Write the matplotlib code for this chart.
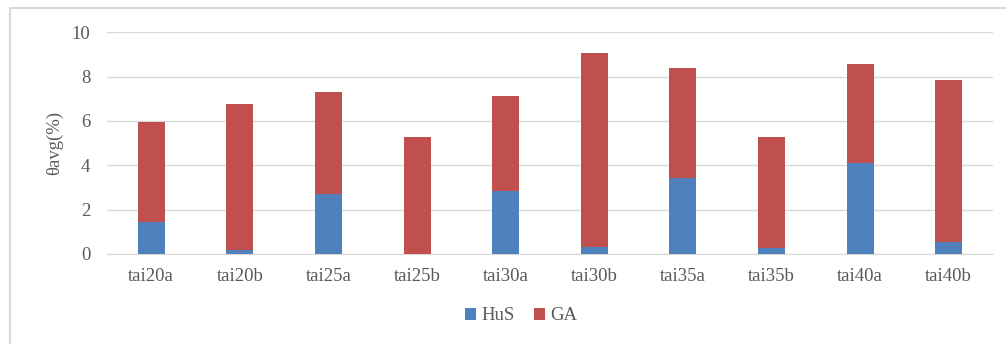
import matplotlib
matplotlib.use("Agg")
import matplotlib.pyplot as plt
from matplotlib.patches import Rectangle

categories = ["tai20a", "tai20b", "tai25a", "tai25b", "tai30a", "tai30b", "tai35a", "tai35b", "tai40a", "tai40b"]
hus = [1.46, 0.18, 2.69, 0.0, 2.84, 0.32, 3.44, 0.29, 4.09, 0.53]
totals = [5.97, 6.75, 7.29, 5.28, 7.14, 9.08, 8.38, 5.28, 8.58, 7.83]
ga = [t - h for t, h in zip(totals, hus)]

plt.rcParams['font.family'] = ['Liberation Serif', 'DejaVu Serif']
text_color = "#595959"
fs = 13.5

fig = plt.figure(figsize=(10.06, 3.44), dpi=100)
fig.patches.append(Rectangle((10/1006, -0.1), 1.2, 1 - 8/344 + 0.1, transform=fig.transFigure,
                             fill=False, edgecolor="#D9D9D9", linewidth=1.5))
ax = fig.add_axes([107/1006, 1 - 254/344, (993 - 107)/1006, (254 - 32.3)/344])

x = range(len(categories))
w = 0.305
ax.bar(x, hus, width=w, color="#4F81BD", label="HuS", zorder=3)
ax.bar(x, ga, width=w, bottom=hus, color="#C0504D", label="GA", zorder=3)

ax.set_xlim(-0.5, len(categories) - 0.5)
ax.set_ylim(0, 10)
ax.set_yticks([0, 2, 4, 6, 8, 10])
ax.set_xticks(list(x))
ax.set_xticklabels(categories)
ax.grid(axis='y', color="#D9D9D9", linewidth=1, zorder=0)
for s in ["top", "right", "left"]:
    ax.spines[s].set_visible(False)
ax.spines["bottom"].set_color("#D9D9D9")
ax.tick_params(axis='both', length=0, colors=text_color, labelsize=fs)
ax.tick_params(axis='x', pad=10)
ax.tick_params(axis='y', pad=12)
ax.set_ylabel("θavg(%)", color=text_color, fontsize=fs, labelpad=6)

fig.legend(loc="center", bbox_to_anchor=(521/1006, 1 - 316/344), ncol=2, frameon=False,
           fontsize=fs, labelcolor=text_color, handlelength=0.6, handleheight=0.6,
           handletextpad=0.3, columnspacing=1.0)

fig.savefig("out.png", dpi=100)
